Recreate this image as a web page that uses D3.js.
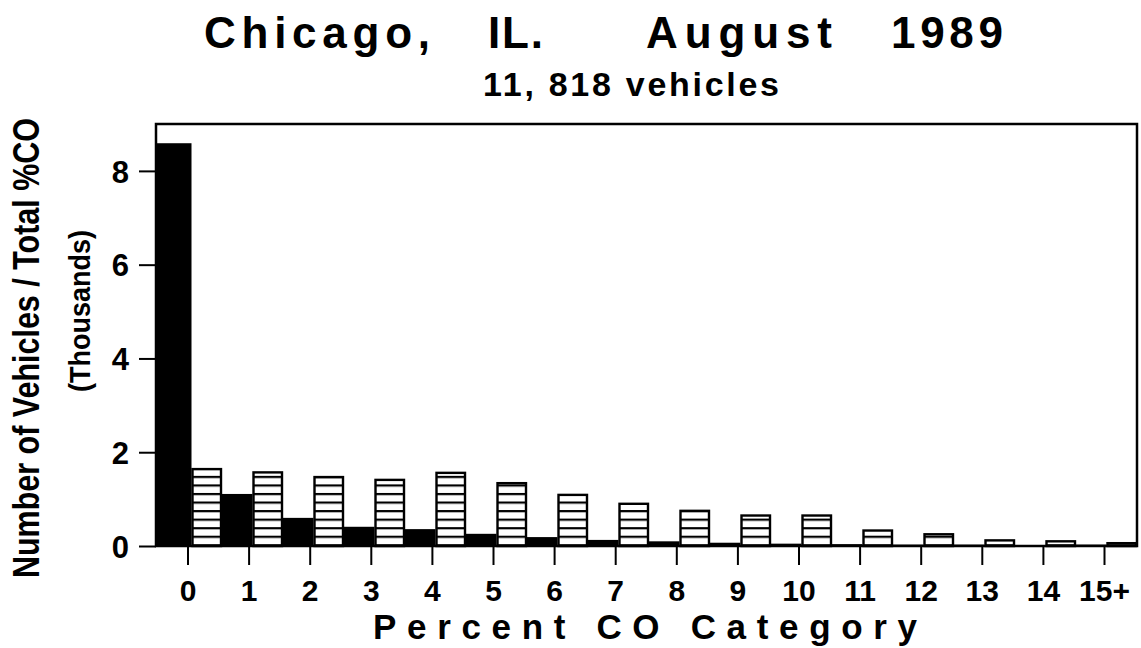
<!DOCTYPE html>
<html>
<head>
<meta charset="utf-8">
<script src="https://cdn.jsdelivr.net/npm/d3@7"></script>
<style>
body { margin: 0; background: #fff; }
text { font-family: "Liberation Sans", Arial, sans-serif; font-weight: bold; fill: #000; }
</style>
</head>
<body>
<div id="chart"></div>
<script>
var w = 1141;
var h = 648;

// values in thousands
var categories = ["0", "1", "2", "3", "4", "5", "6", "7", "8", "9", "10", "11", "12", "13", "14", "15+"];
var vehicles = [8.59, 1.11, 0.60, 0.41, 0.36, 0.26, 0.19, 0.13, 0.10, 0.07, 0.05, 0.04, 0.03, 0.03, 0.02, 0.03];
var totalCO = [1.64, 1.57, 1.47, 1.41, 1.56, 1.34, 1.09, 0.90, 0.75, 0.65, 0.65, 0.33, 0.25, 0.12, 0.10, 0.06];
var yTicks = [0, 2, 4, 6, 8];

var svg = d3.select("#chart").append("svg")
    .attr("width", w)
    .attr("height", h);

var x = d3.scaleBand().domain(categories).range([161, 1137]);
var xTick = d3.scalePoint().domain(categories).range([187.5, 1104]);
var y = d3.scaleLinear().domain([0, 9]).range([546, 124]);

// horizontal hatch
var pat = svg.append("defs").append("pattern")
    .attr("id", "hatch")
    .attr("patternUnits", "userSpaceOnUse")
    .attr("x", 0)
    .attr("y", 535.7)
    .attr("width", 10)
    .attr("height", 8.55);
pat.append("rect").attr("width", 10).attr("height", 8.55).attr("fill", "#fff");
pat.append("rect").attr("width", 10).attr("height", 2.2).attr("fill", "#000");

var bw = x.bandwidth() / 2;

svg.selectAll(".veh")
    .data(categories)
    .enter().append("rect")
    .attr("class", "veh")
    .attr("x", (d, i) => i == 0 ? 157 : x(d))
    .attr("width", (d, i) => i == 0 ? bw + 4 : bw)
    .attr("y", (d, i) => y(vehicles[i]))
    .attr("height", (d, i) => y(0) - y(vehicles[i]))
    .attr("fill", "#000");

svg.selectAll(".co")
    .data(categories)
    .enter().append("rect")
    .attr("class", "co")
    .attr("x", d => x(d) + bw + 1)
    .attr("width", bw - 2)
    .attr("y", (d, i) => y(totalCO[i]))
    .attr("height", (d, i) => y(0) - y(totalCO[i]))
    .attr("fill", "url(#hatch)")
    .attr("stroke", "#000")
    .attr("stroke-width", 2.4);

// frame
svg.append("rect")
    .attr("x", 156).attr("y", 124)
    .attr("width", 981).attr("height", 422)
    .attr("fill", "none")
    .attr("stroke", "#000")
    .attr("stroke-width", 2.5);

var yAxis = svg.append("g")
    .attr("transform", "translate(156,0)")
    .call(d3.axisLeft(y).tickValues(yTicks).tickSize(17).tickPadding(10).tickFormat(d3.format("d")));
yAxis.select(".domain").remove();
yAxis.selectAll("line").attr("stroke-width", 2);
yAxis.selectAll("text")
    .style("font-size", "31px")
    .attr("dy", "0.36em");

var xAxis = svg.append("g")
    .attr("transform", "translate(0,546)")
    .call(d3.axisBottom(xTick).tickSize(19).tickPadding(0));
xAxis.select(".domain").remove();
xAxis.selectAll("line").attr("stroke-width", 2);
xAxis.selectAll("text")
    .style("font-size", "30px")
    .attr("y", 54.5)
    .attr("dy", 0);

// titles
var titleParts = [
    {t: "Chicago,", x: 204, len: 226},
    {t: "IL.", x: 488, len: 55},
    {t: "August", x: 646, len: 186},
    {t: "1989", x: 891, len: 112}
];
svg.selectAll(".title")
    .data(titleParts)
    .enter().append("text")
    .attr("class", "title")
    .attr("x", d => d.x)
    .attr("y", 48)
    .attr("textLength", d => d.len)
    .attr("lengthAdjust", "spacing")
    .style("font-size", "44px")
    .text(d => d.t);

svg.append("text")
    .attr("x", 483).attr("y", 96)
    .attr("textLength", 296)
    .attr("lengthAdjust", "spacing")
    .style("font-size", "34px")
    .text("11, 818 vehicles");

svg.append("text")
    .attr("x", 373).attr("y", 639)
    .attr("textLength", 544)
    .attr("lengthAdjust", "spacing")
    .style("font-size", "35px")
    .text("Percent CO Category");

svg.append("text")
    .attr("transform", "translate(39,578) rotate(-90)")
    .attr("textLength", 460)
    .attr("lengthAdjust", "spacingAndGlyphs")
    .style("font-size", "37px")
    .text("Number of Vehicles / Total %CO");

svg.append("text")
    .attr("transform", "translate(90,392) rotate(-90)")
    .attr("textLength", 162)
    .attr("lengthAdjust", "spacingAndGlyphs")
    .style("font-size", "30px")
    .text("(Thousands)");
</script>
</body>
</html>
